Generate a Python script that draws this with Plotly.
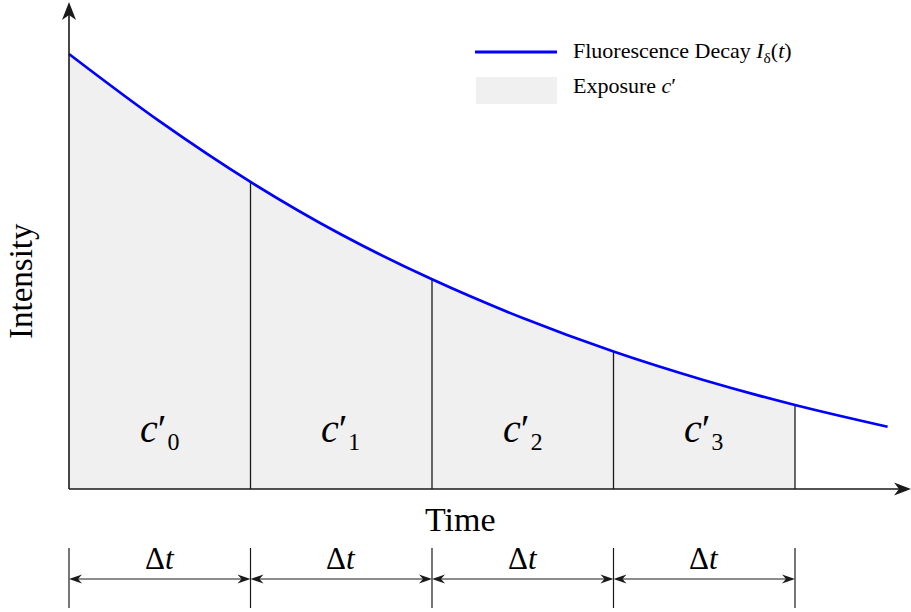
import plotly.graph_objects as go

# Sampled fluorescence decay (time in units of one exposure interval Δt)
time_pts = [0.0, 0.5, 1.0, 1.5, 2.0, 2.5, 3.0, 3.5, 4.0, 4.51]
intensity = [1.000, 0.845, 0.706, 0.585, 0.482, 0.393, 0.316, 0.250, 0.193, 0.143]

# Exposure window boundaries and labels
boundaries = [0.0, 1.0, 2.0, 3.0, 4.0]
exposure_labels = ["<i>c</i>′₀", "<i>c</i>′₁", "<i>c</i>′₂", "<i>c</i>′₃"]
interval_label = "Δ<i>t</i>"
x_title = "Time"
y_title = "Intensity"
legend_line_text = "Fluorescence Decay <i>I</i><sub>δ</sub>(<i>t</i>)"
legend_fill_text = "Exposure <i>c</i>′"

# ---- geometry of the canvas ----
W, H = 911, 612
ORIGIN_X, ORIGIN_Y = 69, 489      # pixel position of the (0, 0) corner
PX_PER_T = 181.5                  # pixels per Δt
PX_PER_I = 435                    # pixels per intensity unit
x_range = [-ORIGIN_X / PX_PER_T, (W - ORIGIN_X) / PX_PER_T]
y_range = [-(H - ORIGIN_Y) / PX_PER_I, ORIGIN_Y / PX_PER_I]


def py(pixel_y):
    """Convert a pixel row into intensity units."""
    return (ORIGIN_Y - pixel_y) / PX_PER_I


FONT = "Liberation Serif"
INK = "#1a1a1a"
BLUE = "#0000ff"
FILL = "#f0f0f0"

fig = go.Figure()

# shaded exposure area under the curve up to the last boundary
n_fill = time_pts.index(boundaries[-1]) + 1
fig.add_trace(go.Scatter(
    x=time_pts[:n_fill], y=intensity[:n_fill], mode="lines",
    line=dict(width=0, shape="spline"), fill="tozeroy", fillcolor=FILL,
    hoverinfo="skip", showlegend=False))

# vertical separators at the interior / final boundaries
sep_x, sep_y = [], []
for b in boundaries[1:]:
    i = time_pts.index(b)
    sep_x += [b, b, None]
    sep_y += [0, intensity[i], None]
fig.add_trace(go.Scatter(x=sep_x, y=sep_y, mode="lines",
                         line=dict(color=INK, width=1.3),
                         hoverinfo="skip", showlegend=False))

# decay curve
fig.add_trace(go.Scatter(x=time_pts, y=intensity, mode="lines",
                         line=dict(color=BLUE, width=2.7, shape="spline"),
                         showlegend=False))

shapes = []
annotations = []


def arrow_head(x, y, path):
    """Filled arrowhead drawn in pixel units around a data anchor."""
    return dict(type="path", xref="x", yref="y", xsizemode="pixel",
                ysizemode="pixel", xanchor=x, yanchor=y, path=path,
                fillcolor=INK, line=dict(width=0))


# axes with stealth arrowheads
y_tip = py(2)
x_tip = x_range[1]
shapes.append(dict(type="line", xref="x", yref="y", x0=0, y0=0, x1=0,
                   y1=y_tip - 12 / PX_PER_I, line=dict(color=INK, width=1.6)))
shapes.append(dict(type="line", xref="x", yref="y", x0=0, y0=0,
                   x1=x_tip - 12 / PX_PER_T, y1=0, line=dict(color=INK, width=1.6)))
shapes.append(arrow_head(0, y_tip, "M0,0 L-7,-18 L0,-13 L7,-18 Z"))
shapes.append(arrow_head(x_tip, 0, "M0,0 L-17,6.5 L-12,0 L-17,-6.5 Z"))

# exposure labels c'_k centred in each window
for k, lab in enumerate(exposure_labels):
    annotations.append(dict(x=(boundaries[k] + boundaries[k + 1]) / 2, y=py(428),
                            xref="x", yref="y", text=lab, showarrow=False,
                            font=dict(family=FONT, size=40, color="black")))

# Δt dimension markers below the time axis
tick_top, tick_bot, dim_y = py(548), py(608), py(579)
for b in boundaries:
    shapes.append(dict(type="line", xref="x", yref="y", x0=b, x1=b,
                       y0=tick_top, y1=tick_bot, line=dict(color=INK, width=1.2)))
for b0, b1 in zip(boundaries[:-1], boundaries[1:]):
    shapes.append(dict(type="line", xref="x", yref="y", x0=b0 + 6 / PX_PER_T,
                       x1=b1 - 6 / PX_PER_T, y0=dim_y, y1=dim_y,
                       line=dict(color=INK, width=1)))
    shapes.append(arrow_head(b0, dim_y, "M0,0 L13,4.5 L9,0 L13,-4.5 Z"))
    shapes.append(arrow_head(b1, dim_y, "M0,0 L-13,4.5 L-9,0 L-13,-4.5 Z"))
    annotations.append(dict(x=(b0 + b1) / 2, y=py(558), xref="x", yref="y",
                            text=interval_label, showarrow=False,
                            font=dict(family=FONT, size=31, color="black")))

# axis titles
annotations.append(dict(x=(460 - ORIGIN_X) / PX_PER_T, y=py(519), xref="x", yref="y",
                        text=x_title, showarrow=False,
                        font=dict(family=FONT, size=34, color="black")))
annotations.append(dict(x=(21 - ORIGIN_X) / PX_PER_T, y=py(281), xref="x", yref="y",
                        text=y_title, showarrow=False, textangle=-90,
                        font=dict(family=FONT, size=33, color="black")))

# legend
shapes.append(dict(type="line", xref="paper", yref="paper",
                   x0=475 / W, x1=557 / W, y0=1 - 52 / H, y1=1 - 52 / H,
                   line=dict(color=BLUE, width=3)))
shapes.append(dict(type="rect", xref="paper", yref="paper",
                   x0=476 / W, x1=557 / W, y0=1 - 104 / H, y1=1 - 77 / H,
                   fillcolor=FILL, line=dict(width=0)))
annotations.append(dict(x=571 / W, y=1 - 52 / H, xref="paper", yref="paper",
                        xanchor="left", yanchor="middle", text=legend_line_text,
                        showarrow=False, font=dict(family=FONT, size=22, color="black")))
annotations.append(dict(x=571 / W, y=1 - 86 / H, xref="paper", yref="paper",
                        xanchor="left", yanchor="middle", text=legend_fill_text,
                        showarrow=False, font=dict(family=FONT, size=22, color="black")))

fig.update_layout(
    width=W, height=H, margin=dict(l=0, r=0, t=0, b=0),
    paper_bgcolor="white", plot_bgcolor="white",
    xaxis=dict(range=x_range, visible=False, fixedrange=True),
    yaxis=dict(range=y_range, visible=False, fixedrange=True),
    shapes=shapes, annotations=annotations, showlegend=False,
)

fig.write_html("out.html")
